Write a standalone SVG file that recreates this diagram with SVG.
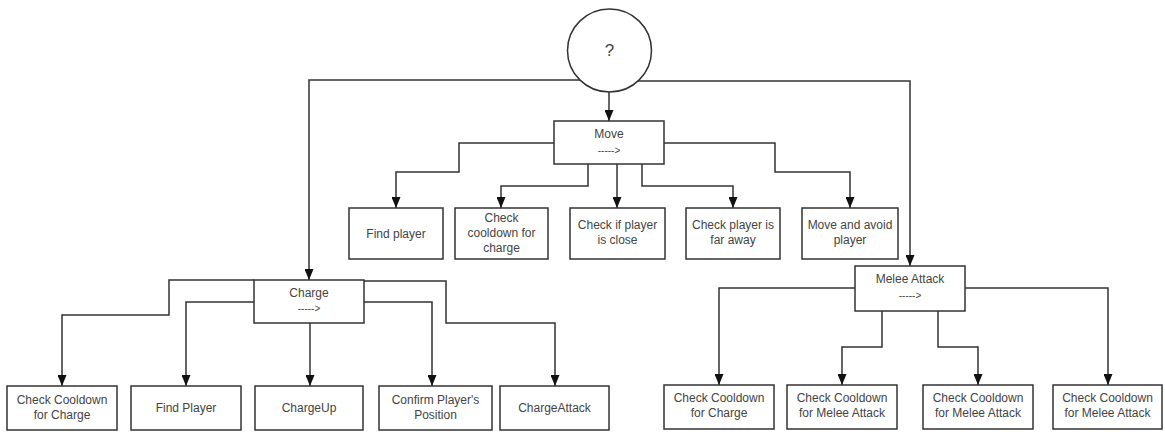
<svg xmlns="http://www.w3.org/2000/svg" width="1165" height="432" viewBox="0 0 1165 432">
<defs>
<marker id="arr" viewBox="0 0 11 9" refX="11" refY="4.5" markerWidth="11" markerHeight="9" markerUnits="userSpaceOnUse" orient="auto">
<path d="M0,0 L11,4.5 L0,9 z" fill="#111"/>
</marker>
<style>
.box{fill:#fff;stroke:#333;stroke-width:1.5}
.c{fill:none;stroke:#333;stroke-width:1.5;marker-end:url(#arr)}
text{font-family:"Liberation Sans",Arial,sans-serif;font-size:12px;fill:#444;text-anchor:middle}
.d{font-size:10px}
.q{font-size:17px}
</style>
</defs>
<rect width="1165" height="432" fill="#fff"/>
<g id="connectors">
<path class="c" d="M580,80 H309 V280"/>
<path class="c" d="M638,81 H910 V266"/>
<path class="c" d="M609,92 V121"/>
<path class="c" d="M554,143 H459 V172 H396 V208"/>
<path class="c" d="M588,164 V186 H501 V208"/>
<path class="c" d="M617,164 V208"/>
<path class="c" d="M642,164 V186 H733 V208"/>
<path class="c" d="M664,143 H775 V172 H850 V208"/>
<path class="c" d="M254,280 H169 V315 H62 V386"/>
<path class="c" d="M254,302 H186 V386"/>
<path class="c" d="M310,323 V386"/>
<path class="c" d="M364,302 H432 V386"/>
<path class="c" d="M364,281 H446 V323 H555 V386"/>
<path class="c" d="M855,288 H719 V385"/>
<path class="c" d="M882,311 V347 H842 V385"/>
<path class="c" d="M938,311 V347 H978 V385"/>
<path class="c" d="M965,288 H1108 V385"/>
</g>
<g id="root"><ellipse class="box" cx="609.5" cy="50.5" rx="42" ry="41.5"/><text class="q" x="609.5" y="56">?</text></g>
<g id="move"><rect class="box" x="554" y="121" width="110" height="43"/><text x="609" y="138">Move</text><text class="d" x="609" y="154">-----&gt;</text></g>
<g id="find-player"><rect class="box" x="349" y="208" width="94" height="51"/><text x="396" y="238">Find player</text></g>
<g id="check-cooldown-charge"><rect class="box" x="455" y="208" width="93" height="51"/><text x="501.5" y="222">Check</text><text x="501.5" y="237">cooldown for</text><text x="501.5" y="252">charge</text></g>
<g id="check-close"><rect class="box" x="570" y="208" width="95" height="51"/><text x="617.5" y="229">Check if player</text><text x="617.5" y="244">is close</text></g>
<g id="check-far"><rect class="box" x="686" y="208" width="94" height="51"/><text x="733" y="229">Check player is</text><text x="733" y="244">far away</text></g>
<g id="move-avoid"><rect class="box" x="802" y="208" width="96" height="51"/><text x="850" y="229">Move and avoid</text><text x="850" y="244">player</text></g>
<g id="charge"><rect class="box" x="254" y="280" width="110" height="43"/><text x="309" y="297">Charge</text><text class="d" x="309" y="312">-----&gt;</text></g>
<g id="c-cooldown"><rect class="box" x="7" y="386" width="110" height="44"/><text x="62" y="404">Check Cooldown</text><text x="62" y="419">for Charge</text></g>
<g id="c-find"><rect class="box" x="131" y="386" width="110" height="44"/><text x="186" y="412">Find Player</text></g>
<g id="c-up"><rect class="box" x="255" y="386" width="108" height="44"/><text x="309" y="412">ChargeUp</text></g>
<g id="c-confirm"><rect class="box" x="379" y="386" width="113" height="44"/><text x="435.5" y="404">Confirm Player's</text><text x="435.5" y="419">Position</text></g>
<g id="c-attack"><rect class="box" x="500" y="386" width="109" height="44"/><text x="554.5" y="412">ChargeAttack</text></g>
<g id="melee"><rect class="box" x="855" y="266" width="110" height="45"/><text x="910" y="283">Melee Attack</text><text class="d" x="910" y="299">-----&gt;</text></g>
<g id="m-cooldown-charge"><rect class="box" x="664" y="385" width="110" height="44"/><text x="719" y="402">Check Cooldown</text><text x="719" y="417">for Charge</text></g>
<g id="m-cooldown-1"><rect class="box" x="787" y="385" width="110" height="44"/><text x="842" y="402">Check Cooldown</text><text x="842" y="417">for Melee Attack</text></g>
<g id="m-cooldown-2"><rect class="box" x="923" y="385" width="110" height="44"/><text x="978" y="402">Check Cooldown</text><text x="978" y="417">for Melee Attack</text></g>
<g id="m-cooldown-3"><rect class="box" x="1053" y="385" width="109" height="44"/><text x="1107.5" y="402">Check Cooldown</text><text x="1107.5" y="417">for Melee Attack</text></g>
</svg>
